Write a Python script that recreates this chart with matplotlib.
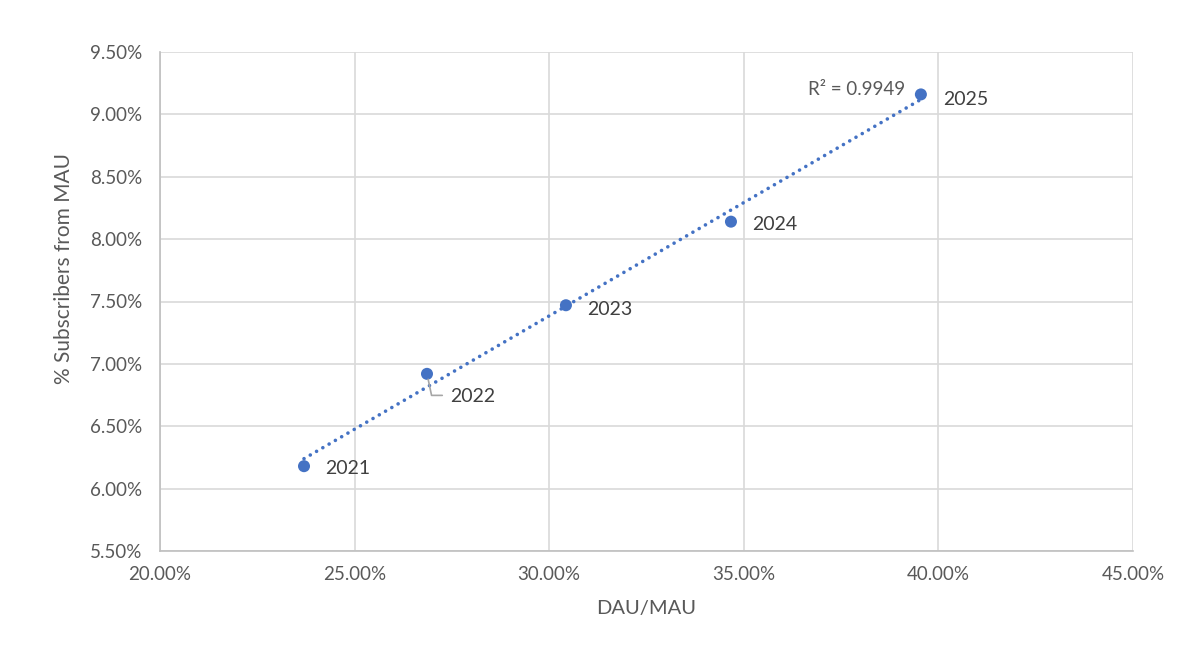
import matplotlib
matplotlib.use("Agg")
import matplotlib.pyplot as plt
import numpy as np
from matplotlib.ticker import FuncFormatter, MultipleLocator

years = ["2021", "2022", "2023", "2024", "2025"]
dau_mau = [23.70, 26.86, 30.43, 34.67, 39.55]
subs_pct = [6.18, 6.92, 7.47, 8.14, 9.16]
r2_label = "R² = 0.9949"

plt.rcParams['font.family'] = ['Lato', 'DejaVu Sans']

fig = plt.figure(figsize=(11.86, 6.52), dpi=100)
ax = fig.add_axes([160/1186, 1-551/652, (1133-160)/1186, (551-52)/652])

blue = "#4472C4"
ax.set_xlim(20, 45)
ax.set_ylim(5.5, 9.5)
ax.xaxis.set_major_locator(MultipleLocator(5))
ax.yaxis.set_major_locator(MultipleLocator(0.5))
ax.xaxis.set_major_formatter(FuncFormatter(lambda v, p: f"{v:.2f}%"))
ax.yaxis.set_major_formatter(FuncFormatter(lambda v, p: f"{v:.2f}%"))
ax.grid(True, color="#d9d9d9", linewidth=1.2)
ax.set_axisbelow(True)
for s in ["top", "right"]:
    ax.spines[s].set_visible(False)
for s in ["left", "bottom"]:
    ax.spines[s].set_color("#bfbfbf")
    ax.spines[s].set_linewidth(1.2)
ax.tick_params(length=0, labelsize=13.5, labelcolor="#595959")
ax.tick_params(axis="x", pad=11)
ax.tick_params(axis="y", pad=13)

# trendline (linear fit of the data)
x = np.array(dau_mau); y = np.array(subs_pct)
m, b = np.polyfit(x, y, 1)
xt = np.array([x.min(), x.max()])
ax.plot(xt, m*xt + b, linestyle=(0, (0.01, 2.0)), color=blue, linewidth=2.6,
        dash_capstyle="round", zorder=2)

ax.scatter(x, y, s=75, color=blue, zorder=3, edgecolors="none")

offsets = {"2021": (15, -2), "2022": (16.5, -16), "2023": (15, -3), "2024": (15, -2), "2025": (16, -4)}
for yr, xi, yi in zip(years, x, y):
    dx, dy = offsets[yr]
    ax.annotate(yr, (xi, yi), xytext=(dx, dy), textcoords="offset points",
                fontsize=14, color="#404040", ha="left", va="center")

# leader line for 2022
i = years.index("2022")
ax.annotate("", (x[i], y[i]), xytext=(11, -15.5), textcoords="offset points",
            arrowprops=dict(arrowstyle="-", color="#a6a6a6", lw=1.2,
                            connectionstyle="angle,angleA=0,angleB=102,rad=0",
                            shrinkA=0, shrinkB=4))

ax.annotate(r2_label, (x[-1], y[-1]), xytext=(-11.5, 3.5), textcoords="offset points",
            fontsize=13.5, color="#595959", ha="right", va="center")

ax.set_xlabel("DAU/MAU", fontsize=14.5, color="#595959", labelpad=12)
ax.set_ylabel("% Subscribers from MAU", fontsize=15, color="#595959")
ax.yaxis.set_label_coords(-0.088, (551-269)/499)

fig.savefig("out.png", dpi=100)
